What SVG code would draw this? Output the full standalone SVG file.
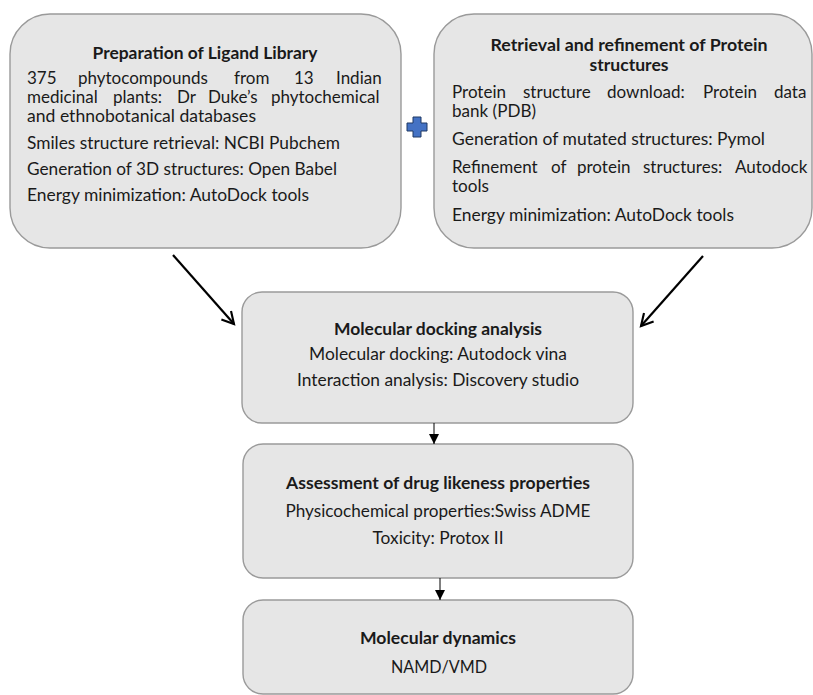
<svg xmlns="http://www.w3.org/2000/svg" width="813" height="695" viewBox="0 0 813 695">
<defs>
<style>
.box{fill:#e6e6e6;stroke:#9a9a9a;stroke-width:1.4}
.t{font-family:Lato,"Liberation Sans",sans-serif;font-size:17px;fill:#1a1a1a}
.b{font-weight:bold}
.m{text-anchor:middle}
.conn{stroke:#000;fill:none}
</style>
<marker id="open" viewBox="0 0 14 14" refX="12" refY="7" markerWidth="15" markerHeight="15" markerUnits="userSpaceOnUse" orient="auto">
<path d="M1,1 L12,7 L1,13" fill="none" stroke="#000" stroke-width="2"/>
</marker>
<marker id="tri" viewBox="0 0 10 10" refX="10" refY="5" markerWidth="11" markerHeight="10" markerUnits="userSpaceOnUse" orient="auto">
<path d="M0,0 L10,5 L0,10 z" fill="#000"/>
</marker>
</defs>
<rect width="813" height="695" fill="#fff"/>

<g id="ligand">
<rect class="box" x="10" y="14" width="391" height="234" rx="40"/>
<text class="t b m" x="205" y="59" textLength="225" lengthAdjust="spacingAndGlyphs">Preparation of Ligand Library</text>
<text class="t" y="84"><tspan x="27">375</tspan> <tspan x="78">phytocompounds</tspan> <tspan x="234">from</tspan> <tspan x="294">13</tspan> <tspan x="336">Indian</tspan></text>
<text class="t" y="103"><tspan x="27">medicinal</tspan> <tspan x="113">plants:</tspan> <tspan x="177">Dr</tspan> <tspan x="208">Duke’s</tspan> <tspan x="271">phytochemical</tspan></text>
<text class="t" x="27" y="122" textLength="229" lengthAdjust="spacingAndGlyphs">and ethnobotanical databases</text>
<text class="t" x="27" y="149" textLength="313" lengthAdjust="spacingAndGlyphs">Smiles structure retrieval: NCBI Pubchem</text>
<text class="t" x="27" y="175" textLength="310" lengthAdjust="spacingAndGlyphs">Generation of 3D structures: Open Babel</text>
<text class="t" x="27" y="201" textLength="282" lengthAdjust="spacingAndGlyphs">Energy minimization: AutoDock tools</text>
</g>

<g id="plus">
<path d="M413,117 h8 v6 h6 v8 h-6 v6 h-8 v-6 h-6 v-8 h6 z" fill="#4472c4" stroke="#1f3864" stroke-width="1"/>
</g>

<g id="protein">
<rect class="box" x="434" y="14" width="378" height="234" rx="40"/>
<text class="t b m" x="629" y="51" textLength="277" lengthAdjust="spacingAndGlyphs">Retrieval and refinement of Protein</text>
<text class="t b m" x="629" y="71" textLength="79" lengthAdjust="spacingAndGlyphs">structures</text>
<text class="t" y="98"><tspan x="452">Protein</tspan> <tspan x="523">structure</tspan> <tspan x="607">download:</tspan> <tspan x="703">Protein</tspan> <tspan x="774">data</tspan></text>
<text class="t" x="452" y="117" textLength="84" lengthAdjust="spacingAndGlyphs">bank (PDB)</text>
<text class="t" x="452" y="145" textLength="313" lengthAdjust="spacingAndGlyphs">Generation of mutated structures: Pymol</text>
<text class="t" y="173"><tspan x="452">Refinement</tspan> <tspan x="551">of</tspan> <tspan x="577">protein</tspan> <tspan x="643">structures:</tspan> <tspan x="735">Autodock</tspan></text>
<text class="t" x="452" y="192" textLength="37" lengthAdjust="spacingAndGlyphs">tools</text>
<text class="t" x="452" y="221" textLength="282" lengthAdjust="spacingAndGlyphs">Energy minimization: AutoDock tools</text>
</g>

<g id="docking">
<rect class="box" x="242" y="292" width="391" height="131" rx="20"/>
<text class="t b m" x="438" y="335" textLength="208" lengthAdjust="spacingAndGlyphs">Molecular docking analysis</text>
<text class="t m" x="438" y="360" textLength="258" lengthAdjust="spacingAndGlyphs">Molecular docking: Autodock vina</text>
<text class="t m" x="438" y="386" textLength="282" lengthAdjust="spacingAndGlyphs">Interaction analysis: Discovery studio</text>
</g>

<g id="druglikeness">
<rect class="box" x="243" y="444" width="390" height="134" rx="20"/>
<text class="t b m" x="438" y="489" textLength="304" lengthAdjust="spacingAndGlyphs">Assessment of drug likeness properties</text>
<text class="t m" x="438" y="517" textLength="305" lengthAdjust="spacingAndGlyphs">Physicochemical properties:Swiss ADME</text>
<text class="t m" x="438" y="544" textLength="131" lengthAdjust="spacingAndGlyphs">Toxicity: Protox II</text>
</g>

<g id="dynamics">
<rect class="box" x="243" y="600" width="390" height="94" rx="20"/>
<text class="t b m" x="438" y="644" textLength="156" lengthAdjust="spacingAndGlyphs">Molecular dynamics</text>
<text class="t m" x="439" y="673" textLength="96" lengthAdjust="spacingAndGlyphs">NAMD/VMD</text>
</g>

<g id="connectors">
<line class="conn" x1="173" y1="255" x2="234" y2="324" stroke-width="2.2" marker-end="url(#open)"/>
<line class="conn" x1="703" y1="256" x2="641" y2="326" stroke-width="2.2" marker-end="url(#open)"/>
<line class="conn" x1="434" y1="423" x2="434" y2="444" stroke-width="1" marker-end="url(#tri)"/>
<line class="conn" x1="440" y1="578" x2="440" y2="600" stroke-width="1" marker-end="url(#tri)"/>
</g>
</svg>
